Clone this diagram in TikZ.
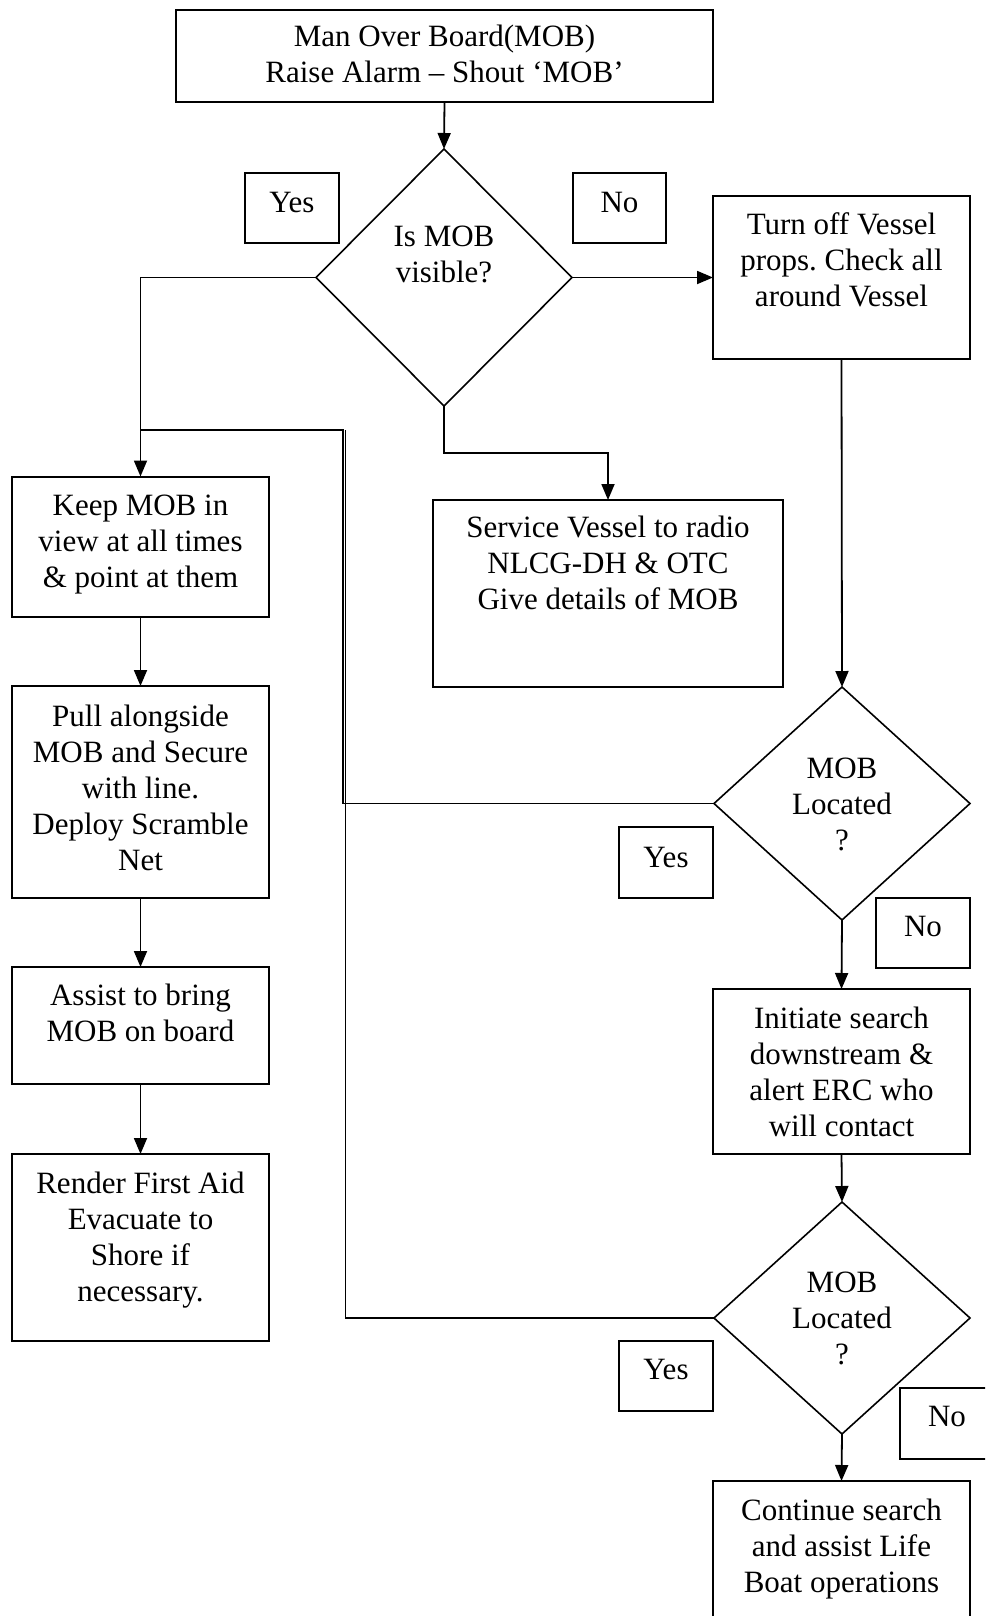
\documentclass[tikz,border=0pt]{standalone}
\usepackage{fontspec}
\setmainfont{Liberation Serif}
\frenchspacing
\usetikzlibrary{shapes.geometric,arrows.meta}
\begin{document}
\begin{tikzpicture}[x=1pt,y=-1pt,
  box/.style={draw,line width=2pt,rectangle,inner sep=0pt,outer sep=0pt,anchor=north west},
  dia/.style={draw,line width=1.6pt,diamond,inner sep=0pt,outer sep=0pt},
  txt/.style={align=center,inner sep=0pt,anchor=base,font=\fontsize{31}{36}\selectfont\frenchspacing},
  conn/.style={line width=1.8pt},
  arr/.style={conn,-{Triangle[length=16pt,width=13pt]}}]
\useasboundingbox (0,0) rectangle (985,1616);
\clip (0,0) rectangle (985,1616);
% boxes
\node[box,minimum width=537pt,minimum height=92pt] (top) at (176,10) {};
\node[box,minimum width=94pt,minimum height=70pt] (yes1) at (245,173) {};
\node[box,minimum width=93pt,minimum height=70pt] (no1) at (573,173) {};
\node[box,minimum width=257pt,minimum height=163pt] (turnoff) at (713,196) {};
\node[box,minimum width=257pt,minimum height=140.5pt] (keep) at (12,476.5) {};
\node[box,minimum width=350pt,minimum height=187pt] (service) at (433,500) {};
\node[box,minimum width=257pt,minimum height=211.5pt] (pull) at (12,686) {};
\node[box,minimum width=94pt,minimum height=70.5pt] (yes2) at (619,827) {};
\node[box,minimum width=94pt,minimum height=70pt] (no2) at (876,897.5) {};
\node[box,minimum width=257pt,minimum height=117pt] (assist) at (12,967) {};
\node[box,minimum width=257pt,minimum height=165pt] (initiate) at (713,989) {};
\node[box,minimum width=257pt,minimum height=187pt] (render) at (12,1154) {};
\node[box,minimum width=94pt,minimum height=70pt] (yes3) at (619,1341) {};
\node[box,minimum width=94pt,minimum height=70.5pt] (no3) at (900,1388) {};
\node[box,minimum width=257pt,minimum height=220pt] (final) at (713,1481) {};
% diamonds
\node[dia,minimum width=256pt,minimum height=257pt] (d1) at (444,277.5) {};
\node[dia,minimum width=256pt,minimum height=233pt] (d2) at (842,803.5) {};
\node[dia,minimum width=256pt,minimum height=232pt] (d3) at (842,1318) {};
% texts (anchored at the baseline of their last line)
\node[txt] (ttop) at (444.5,83) {Man Over Board(MOB)\\Raise Alarm – Shout ‘MOB’};
\node[txt] (tyes1) at (292,212) {Yes};
\node[txt] (tno1) at (619.5,212) {No};
\node[txt] (td1) at (444,282) {Is MOB\\visible?};
\node[txt] (tturnoff) at (841.5,306) {Turn off Vessel\\props. Check all\\around Vessel};
\node[txt] (tkeep) at (140.5,587) {Keep MOB in\\view at all times\\\& point at them};
\node[txt] (tservice) at (608,609.5) {Service Vessel to radio\\NLCG-DH \& OTC\\Give details of MOB};
\node[txt] (tpull) at (140.5,870) {Pull alongside\\MOB and Secure\\with line.\\Deploy Scramble\\Net};
\node[txt] (td2) at (842,850) {MOB\\Located\\?};
\node[txt] (tyes2) at (666,867) {Yes};
\node[txt] (tno2) at (923,936) {No};
\node[txt] (tassist) at (140.5,1041) {Assist to bring\\MOB on board};
\node[txt] (tinitiate) at (841.5,1136) {Initiate search\\downstream \&\\alert ERC who\\will contact};
\node[txt] (trender) at (140.5,1301) {Render First Aid\\Evacuate to\\Shore if\\necessary.};
\node[txt] (td3) at (842,1364) {MOB\\Located\\?};
\node[txt] (tyes3) at (666,1379) {Yes};
\node[txt] (tno3) at (947,1426) {No};
\node[txt] (tfinal) at (841.5,1592) {Continue search\\and assist Life\\Boat operations};
% junctions
\coordinate (j0) at (140.5,430);
\coordinate (j1) at (343,430);
\coordinate (j2) at (345.5,430);
% connectors
\draw[arr] (top.south) -- (d1.north);
\draw[arr] (d1.west) -| (keep.north);
\draw[arr] (d1.east) -- (turnoff.west);
\draw[arr] (d1.south) -- ++(0,47) -| (service.north);
\draw[arr] (turnoff.south) -- (d2.north);
\draw[arr] (keep.south) -- (pull.north);
\draw[arr] (pull.south) -- (assist.north);
\draw[arr] (assist.south) -- (render.north);
\draw[arr] (d2.south) -- (initiate.north);
\draw[arr] (initiate.south) -- (d3.north);
\draw[arr] (d3.south) -- (final.north);
\draw[conn] (d2.west) -| (j1) -- (j0);
\draw[conn] (d3.west) -| (j2);
\end{tikzpicture}
\end{document}
